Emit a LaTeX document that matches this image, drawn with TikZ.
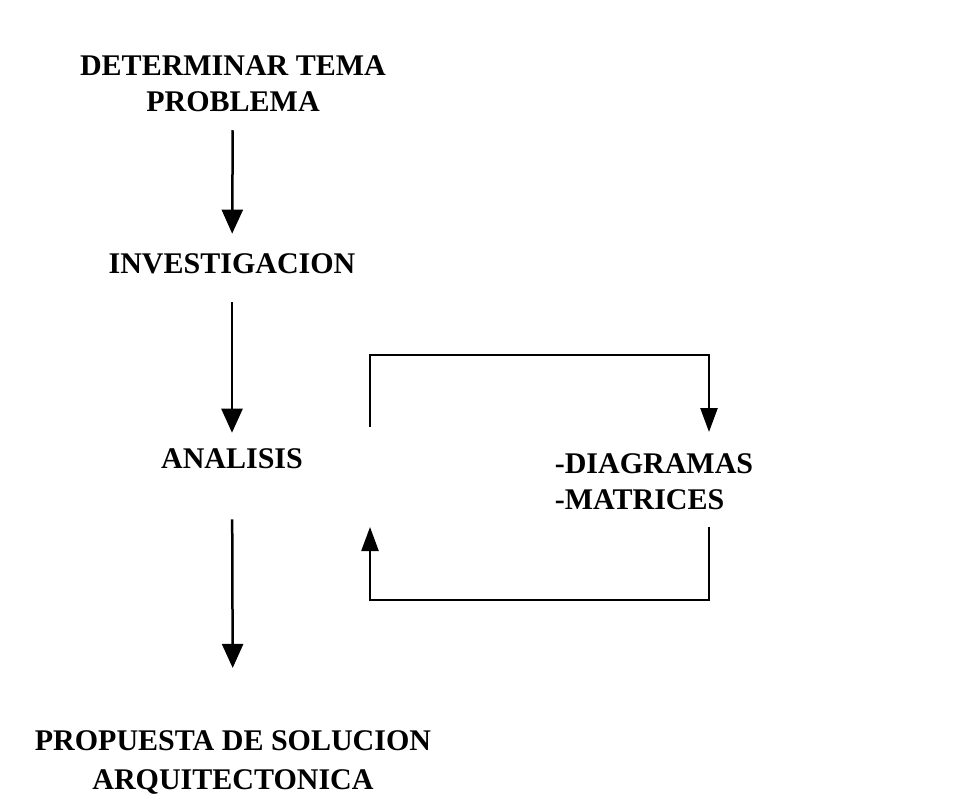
\documentclass[tikz,border=0pt]{standalone}
\usepackage{fontspec}
\setmainfont{Liberation Serif}
\usetikzlibrary{arrows.meta}

\tikzset{
  texto/.style={font=\fontsize{30}{36}\selectfont\bfseries, align=center, inner sep=0pt},
  flecha/.style={line width=2.5pt, -{Triangle[width=21pt,length=24pt]}},
  lazo/.style={line width=2.5pt, -{Triangle[width=17pt,length=24pt]}}
}

\begin{document}
\begin{tikzpicture}[x=1pt,y=-1pt]
      \useasboundingbox (0,0) rectangle (965,806);
      \node[texto] (tema) at (233,84) {DETERMINAR TEMA\\PROBLEMA};
      \node[texto] (inv) at (232,264) {INVESTIGACION};
      \node[texto] (ana) at (232,459) {ANALISIS};
      \node[texto, align=left] (diag) at (654,482) {-DIAGRAMAS\\-MATRICES};
      \node[texto, font=\fontsize{30}{39}\selectfont\bfseries] (prop) at (233,762)
            {PROPUESTA DE SOLUCION\\ARQUITECTONICA};
      % flujo principal
      \draw[flecha, shorten <=18pt, shorten >=20pt] (tema) -- (inv);
      \draw[flecha, shorten <=28pt, shorten >=16pt] (inv) -- (ana);
      \draw[flecha, shorten <=50pt, shorten >=62pt] (ana) -- (prop);
      % retroalimentacion
      \coordinate (salida) at (370,427);
      \coordinate (entrada) at (709,432);
      \coordinate (regreso) at (709,527);
      \coordinate (llegada) at (370,527);
      \draw[lazo] (salida) -- ++(0,-72) -| (entrada);
      \draw[lazo] (regreso) -- ++(0,73) -| (llegada);
\end{tikzpicture}
\end{document}
